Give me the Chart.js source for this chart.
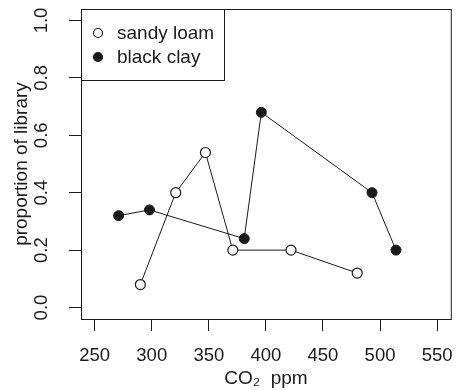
<!DOCTYPE html>
<html>
<head>
<meta charset="utf-8">
<script src="https://cdn.jsdelivr.net/npm/chart.js@4"></script>
<style>
  html, body { margin: 0; padding: 0; background: #fff; }
  #wrap { width: 457px; height: 390px; }
</style>
</head>
<body>
<div id="wrap"><canvas id="myChart" width="457" height="390"></canvas></div>
<script>
// data
const sandyCO2 = [290, 321, 347, 371, 422, 480];
const sandyProp = [0.08, 0.40, 0.54, 0.20, 0.20, 0.12];
const clayCO2 = [271, 298, 381, 396, 493, 514];
const clayProp = [0.32, 0.34, 0.24, 0.68, 0.40, 0.20];
const xTicks = [250, 300, 350, 400, 450, 500, 550];
const yTicks = [0.0, 0.2, 0.4, 0.6, 0.8, 1.0];

const ink = "#1a1a1a";
const font = { family: "'Liberation Sans', Arial, sans-serif", size: 19 };
const tickFont = { family: "'Liberation Sans', Arial, sans-serif", size: 18.5 };

function toPoints(xs, ys) {
  return xs.map(function (x, i) { return { x: x, y: ys[i] }; });
}

// box around the plot region + legend in top-left corner
const boxAndLegend = {
  id: "boxAndLegend",
  afterDraw: function (chart) {
    const ctx = chart.ctx;
    const a = chart.chartArea;
    ctx.save();
    ctx.strokeStyle = ink;
    ctx.lineWidth = 1;
    ctx.strokeRect(a.left + 0.5, a.top + 0.5, a.right - a.left, a.bottom - a.top);

    // legend
    const w = 143, h = 71;
    ctx.fillStyle = "#fff";
    ctx.fillRect(a.left + 0.5, a.top + 0.5, w, h);
    ctx.strokeRect(a.left + 0.5, a.top + 0.5, w, h);
    ctx.font = font.size + "px " + font.family;
    ctx.textBaseline = "middle";
    chart.data.datasets.forEach(function (ds, i) {
      const cy = a.top + 24 + i * 24;
      const cx = a.left + 17;
      ctx.beginPath();
      ctx.arc(cx, cy, 4.5, 0, Math.PI * 2);
      ctx.fillStyle = ds.backgroundColor;
      ctx.fill();
      ctx.lineWidth = 1.2;
      ctx.strokeStyle = ink;
      ctx.stroke();
      ctx.fillStyle = ink;
      ctx.fillText(ds.label, a.left + 36, cy + 1);
    });
    ctx.restore();
  }
};

const ctx = document.getElementById("myChart");
const myChart = new Chart(ctx, {
  type: "line",
  data: {
    datasets: [
      {
        label: "sandy loam",
        data: toPoints(sandyCO2, sandyProp),
        borderColor: ink,
        backgroundColor: "#ffffff",
        borderWidth: 1,
        pointRadius: 5,
        pointBorderWidth: 1.2,
        pointBorderColor: ink,
        pointBackgroundColor: "#ffffff",
        tension: 0,
      },
      {
        label: "black clay",
        data: toPoints(clayCO2, clayProp),
        borderColor: ink,
        backgroundColor: ink,
        borderWidth: 1,
        pointRadius: 5,
        pointBorderWidth: 1,
        pointBorderColor: ink,
        pointBackgroundColor: ink,
        tension: 0,
      },
    ],
  },
  options: {
    responsive: false,
    animation: false,
    layout: { padding: { top: 9, right: 4, left: 0, bottom: 0 } },
    plugins: {
      legend: { display: false },
      tooltip: { enabled: false },
    },
    scales: {
      x: {
        type: "linear",
        min: 238,
        max: 562,
        afterBuildTicks: function (scale) {
          scale.ticks = xTicks.map(function (v) { return { value: v }; });
        },
        afterFit: function (scale) {
          scale.height = 71;
          scale.paddingLeft = 0;
          scale.paddingRight = 0;
        },
        grid: { display: true, drawOnChartArea: false, drawTicks: true, tickLength: 12, color: ink },
        border: { display: true, color: ink },
        ticks: { color: ink, font: tickFont, padding: 14, maxRotation: 0, autoSkip: false },
        title: { display: true, text: "CO\u2082  ppm", color: ink, font: font, padding: { top: 1, bottom: 0 } },
      },
      y: {
        type: "linear",
        min: -0.04,
        max: 1.04,
        afterBuildTicks: function (scale) {
          scale.ticks = yTicks.map(function (v) { return { value: v }; });
        },
        afterFit: function (scale) {
          scale.width = 81;
          scale.paddingTop = 0;
          scale.paddingBottom = 0;
        },
        grid: { display: true, drawOnChartArea: false, drawTicks: true, tickLength: 12, color: ink },
        border: { display: true, color: ink },
        ticks: {
          color: ink,
          font: tickFont,
          padding: 14,
          minRotation: 90,
          maxRotation: 90,
          crossAlign: "center",
          autoSkip: false,
          callback: function (v) { return Number(v).toFixed(1); },
        },
        title: { display: true, text: "proportion of library", color: ink, font: font, padding: { top: 10, bottom: 0 } },
      },
    },
  },
  plugins: [boxAndLegend],
});
</script>
</body>
</html>
